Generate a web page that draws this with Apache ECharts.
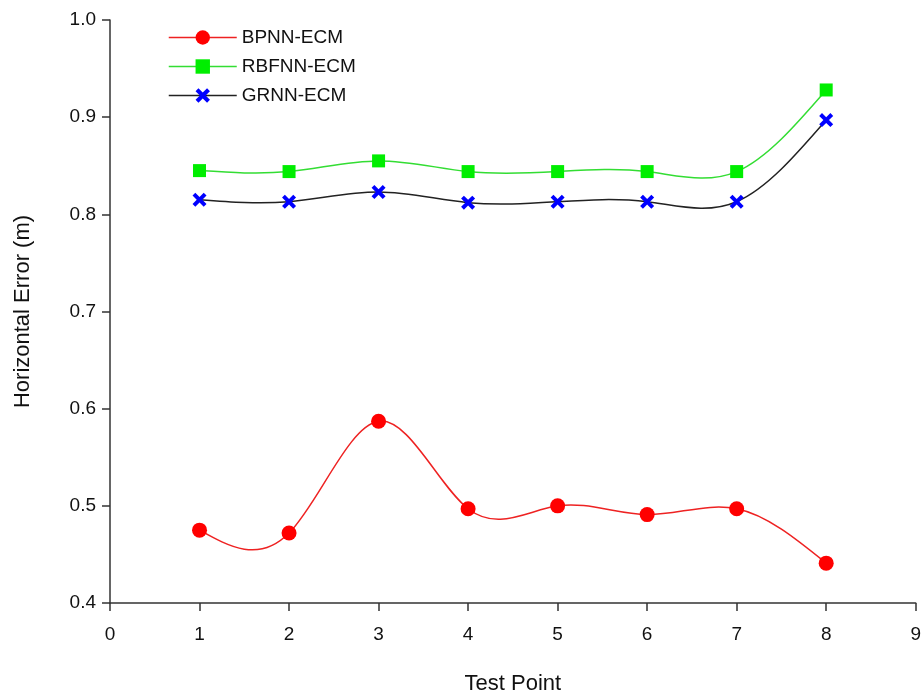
<!DOCTYPE html>
<html>
<head>
<meta charset="utf-8">
<script src="https://cdn.jsdelivr.net/npm/echarts@6/dist/echarts.min.js"></script>
<style>
  html, body { margin: 0; padding: 0; background: #fff; overflow: hidden; }
  #container { width: 100vw; height: 100vh; }
</style>
</head>
<body>
<div id="container"></div>
<script>
var testPoints = [1, 2, 3, 4, 5, 6, 7, 8];
var bpnn = [0.475, 0.472, 0.587, 0.497, 0.500, 0.491, 0.497, 0.441];
var rbfnn = [0.845, 0.844, 0.855, 0.844, 0.844, 0.844, 0.844, 0.928];
var grnn = [0.815, 0.813, 0.823, 0.812, 0.813, 0.813, 0.813, 0.897];

function pairs(vals) {
  return testPoints.map(function (x, i) { return [x, vals[i]]; });
}

var crossPath = 'path://M2,0L5,3L8,0L10,2L7,5L10,8L8,10L5,7L2,10L0,8L3,5L0,2Z';
var font = 'Liberation Sans, Arial, sans-serif';

// natural cubic spline through pixel points, returned as bezier path
function splinePath(pts) {
  var n = pts.length;
  var h = pts[1][0] - pts[0][0];
  var ys = pts.map(function (p) { return p[1]; });
  var M = new Array(n).fill(0);
  var a = [], b = [], c = [], d = [];
  for (var i = 1; i < n - 1; i++) {
    a.push(1); b.push(4); c.push(1);
    d.push(6 * (ys[i + 1] - 2 * ys[i] + ys[i - 1]) / (h * h));
  }
  var m = d.length;
  for (var k = 1; k < m; k++) {
    var w = a[k] / b[k - 1];
    b[k] -= w * c[k - 1];
    d[k] -= w * d[k - 1];
  }
  var sol = new Array(m);
  sol[m - 1] = d[m - 1] / b[m - 1];
  for (k = m - 2; k >= 0; k--) sol[k] = (d[k] - c[k] * sol[k + 1]) / b[k];
  for (k = 0; k < m; k++) M[k + 1] = sol[k];

  var path = 'M' + pts[0][0] + ',' + pts[0][1];
  for (i = 0; i < n - 1; i++) {
    var s = (ys[i + 1] - ys[i]) / h;
    var d0 = s - h * (2 * M[i] + M[i + 1]) / 6;
    var d1 = s + h * (M[i] + 2 * M[i + 1]) / 6;
    var x0 = pts[i][0], x1 = pts[i + 1][0];
    path += 'C' + (x0 + h / 3) + ',' + (ys[i] + d0 * h / 3) + ' ' +
      (x1 - h / 3) + ',' + (ys[i + 1] - d1 * h / 3) + ' ' + x1 + ',' + ys[i + 1];
  }
  return path;
}

function curveSeries(vals, color) {
  var data = pairs(vals);
  return {
    type: 'custom',
    silent: true,
    z: 1,
    data: data,
    renderItem: function (params, api) {
      if (params.dataIndex !== 0) return null;
      var pts = data.map(function (p) { return api.coord(p); });
      return {
        type: 'path',
        shape: { pathData: splinePath(pts) },
        style: { fill: null, stroke: color, lineWidth: 1.5 }
      };
    }
  };
}

var dom = document.getElementById('container');
var myChart = echarts.init(dom, null, { renderer: 'canvas' });

var option = {
  animation: false,
  textStyle: { fontFamily: font },
  grid: { left: 110, right: 1, top: 20, bottom: 80 },
  legend: {
    orient: 'vertical',
    left: 163,
    top: 23,
    itemWidth: 68,
    itemHeight: 18,
    itemGap: 10,
    textStyle: { fontSize: 19, color: '#111', fontFamily: font },
    data: [
      { name: 'BPNN-ECM', lineStyle: { color: '#ee2222', width: 1.5, opacity: 1 } },
      { name: 'RBFNN-ECM', lineStyle: { color: '#33dd33', width: 1.5, opacity: 1 } },
      { name: 'GRNN-ECM', lineStyle: { color: '#222', width: 1.5, opacity: 1 } }
    ]
  },
  xAxis: {
    type: 'value',
    min: 0,
    max: 9,
    interval: 1,
    name: 'Test Point',
    nameLocation: 'middle',
    nameGap: 70,
    nameTextStyle: { fontSize: 22, color: '#111', fontFamily: font },
    splitLine: { show: false },
    axisLine: { onZero: false, lineStyle: { color: '#333', width: 1.5 } },
    axisTick: { length: 8, lineStyle: { color: '#333', width: 1.5 } },
    axisLabel: { fontSize: 19, color: '#111', margin: 22 }
  },
  yAxis: {
    type: 'value',
    min: 0.4,
    max: 1.0,
    interval: 0.1,
    name: 'Horizontal Error (m)',
    nameLocation: 'middle',
    nameGap: 76,
    nameTextStyle: { fontSize: 22, color: '#111', fontFamily: font },
    splitLine: { show: false },
    axisLine: { show: true, lineStyle: { color: '#333', width: 1.5 } },
    axisTick: { show: true, length: 8, lineStyle: { color: '#333', width: 1.5 } },
    axisLabel: {
      fontSize: 19, color: '#111', margin: 14,
      formatter: function (v) { return v.toFixed(1); }
    }
  },
  series: [
    curveSeries(bpnn, '#ee2222'),
    curveSeries(rbfnn, '#33dd33'),
    curveSeries(grnn, '#222'),
    {
      name: 'BPNN-ECM',
      type: 'line',
      z: 3,
      data: pairs(bpnn),
      symbol: 'circle',
      symbolSize: 15,
      itemStyle: { color: '#ff0000' },
      lineStyle: { width: 0, opacity: 0 }
    },
    {
      name: 'RBFNN-ECM',
      type: 'line',
      z: 3,
      data: pairs(rbfnn),
      symbol: 'rect',
      symbolSize: 13,
      itemStyle: { color: '#00ee00' },
      lineStyle: { width: 0, opacity: 0 }
    },
    {
      name: 'GRNN-ECM',
      type: 'line',
      z: 3,
      data: pairs(grnn),
      symbol: crossPath,
      symbolSize: 14,
      itemStyle: { color: '#0000ff' },
      lineStyle: { width: 0, opacity: 0 }
    }
  ]
};

myChart.setOption(option);
window.addEventListener('resize', myChart.resize);
</script>
</body>
</html>
